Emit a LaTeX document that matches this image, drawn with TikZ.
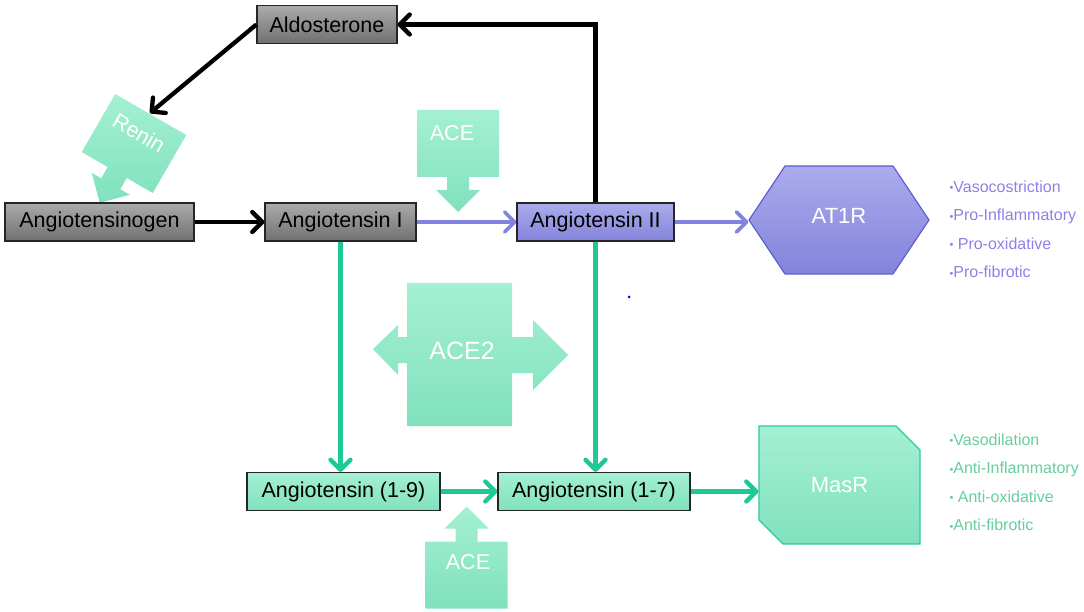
\documentclass[tikz,border=0pt]{standalone}
\usepackage{fontspec}
\setmainfont{Liberation Sans}
\usetikzlibrary{arrows.meta,shapes.symbols,shapes.misc}

\definecolor{greyA}{HTML}{ABABAB}
\definecolor{greyB}{HTML}{707070}
\definecolor{purpA}{HTML}{ABABEC}
\definecolor{purpB}{HTML}{8383DB}
\definecolor{purpline}{HTML}{8282E0}
\definecolor{purpedge}{HTML}{5C5CD2}
\definecolor{purptext}{HTML}{8F80E6}
\definecolor{greenA}{HTML}{A4F0D3}
\definecolor{greenB}{HTML}{80E1BD}
\definecolor{greenline}{HTML}{1FC995}
\definecolor{greenedge}{HTML}{2DCC98}
\definecolor{greentext}{HTML}{66CE9E}

\newcommand{\listdot}{\raisebox{0.5pt}{\fontsize{11}{11}\selectfont\textbullet}}

\tikzset{
  box/.style={draw=black!85, line width=1.2pt, minimum height=38pt, inner sep=0pt,
    font=\fontsize{21.5}{25}\selectfont},
  grey box/.style={box, top color=greyA, bottom color=greyB},
  purple box/.style={box, top color=purpA, bottom color=purpB},
  green box/.style={box, top color=greenA, bottom color=greenB},
  enzyme/.style={top color=greenA, bottom color=greenB},
  enzyme text/.style={text=white, font=\fontsize{21.5}{25}\selectfont},
  receptor/.style={text=white, line width=1.2pt, font=\fontsize{22}{26}\selectfont},
  effects/.style={anchor=west, align=left, font=\fontsize{16}{28.5}\selectfont},
  tip/.style={-{Straight Barb[length=10pt,width=20pt,round]}},
  black arrow/.style={tip, line width=4.3pt, black},
  purple arrow/.style={tip, line width=3.6pt, purpline},
  green arrow/.style={tip, line width=4.3pt, greenline},
  pics/enzyme arrow/.style={code={
    \shade[enzyme] (-41,-33.5) -- (41,-33.5) -- (41,33.5) -- (11,33.5) -- (11,46.5)
      -- (22,46.5) -- (0,68.5) -- (-22,46.5) -- (-11,46.5) -- (-11,33.5)
      -- (-41,33.5) -- cycle;
  }}
}

\begin{document}
\begin{tikzpicture}[x=1pt, y=-1pt]
  \useasboundingbox (0,0) rectangle (1084,612);

  % enzymes (block arrows)
  \pic[rotate=-30] at (134,143.5) {enzyme arrow};
  \pic at (458,143.5) {enzyme arrow};
  \pic[rotate=180] at (466.5,575) {enzyme arrow};
  \shade[enzyme] (407,283) -- (512,283) -- (512,337) -- (533,337) -- (533,320)
    -- (568,355) -- (533,390) -- (533,373) -- (512,373) -- (512,426) -- (407,426)
    -- (407,363) -- (398,363) -- (398,375) -- (373,349) -- (398,325) -- (398,337)
    -- (407,337) -- cycle;
  \node[enzyme text, rotate=-30] (renin) at (139,133) {Renin};
  \node[enzyme text] (ace) at (452,133) {ACE};
  \node[enzyme text] (acebot) at (468,562) {ACE};
  \node[enzyme text, font=\fontsize{25}{29}\selectfont] (acetwo) at (462,351) {ACE2};
  \coordinate (renintip) at (150,113);

  % peptides
  \node[grey box, minimum width=140pt] (aldo) at (327,24.5) {Aldosterone};
  \node[grey box, minimum width=189pt] (agen) at (99.5,222) {Angiotensinogen};
  \node[grey box, minimum width=151pt] (angI) at (340.5,222) {Angiotensin I};
  \node[purple box, minimum width=157pt] (angII) at (595.5,222) {Angiotensin II};
  \node[green box, minimum width=193pt] (ang19) at (343.5,491.5) {Angiotensin (1-9)};
  \node[green box, minimum width=192pt] (ang17) at (594,491.5) {Angiotensin (1-7)};

  % receptors
  \node[receptor, signal, signal to=west and east, signal pointer angle=112.6,
    minimum width=180pt, minimum height=108pt, draw=purpedge,
    top color=purpA, bottom color=purpB, text depth=8pt] (at1r) at (839,220) {AT1R};
  \node[receptor, chamfered rectangle, chamfered rectangle corners={north east,south west},
    chamfered rectangle xsep=14pt, chamfered rectangle ysep=13pt,
    minimum width=161pt, minimum height=118pt, draw=greenedge,
    top color=greenA, bottom color=greenB] (masr) at (839.5,485) {MasR};

  \node[effects, text=purptext] (at1reff) at (946,229.5)
    {\listdot Vasocostriction\\\listdot Pro-Inflammatory\\\listdot\ Pro-oxidative\\\listdot Pro-fibrotic};
  \node[effects, text=greentext] (masreff) at (946,482.5)
    {\listdot Vasodilation\\\listdot Anti-Inflammatory\\\listdot\ Anti-oxidative\\\listdot Anti-fibrotic};

  \fill[blue] (629,297) circle (1.5pt);

  % connectors
  \draw[black arrow] (agen) -- (angI);
  \draw[black arrow] (angII.north) |- (aldo.east);
  \draw[black arrow] (aldo.west) -- (renintip);
  \draw[purple arrow] (angI) -- (angII);
  \draw[purple arrow] (angII.east) -- (angII.east -| at1r.west);
  \draw[green arrow] (angI.south) -- (angI.south |- ang19.north);
  \draw[green arrow] (angII.south) -- (angII.south |- ang17.north);
  \draw[green arrow] (ang19) -- (ang17);
  \draw[green arrow] (ang17.east) -- (ang17.east -| masr.west);
\end{tikzpicture}
\end{document}
